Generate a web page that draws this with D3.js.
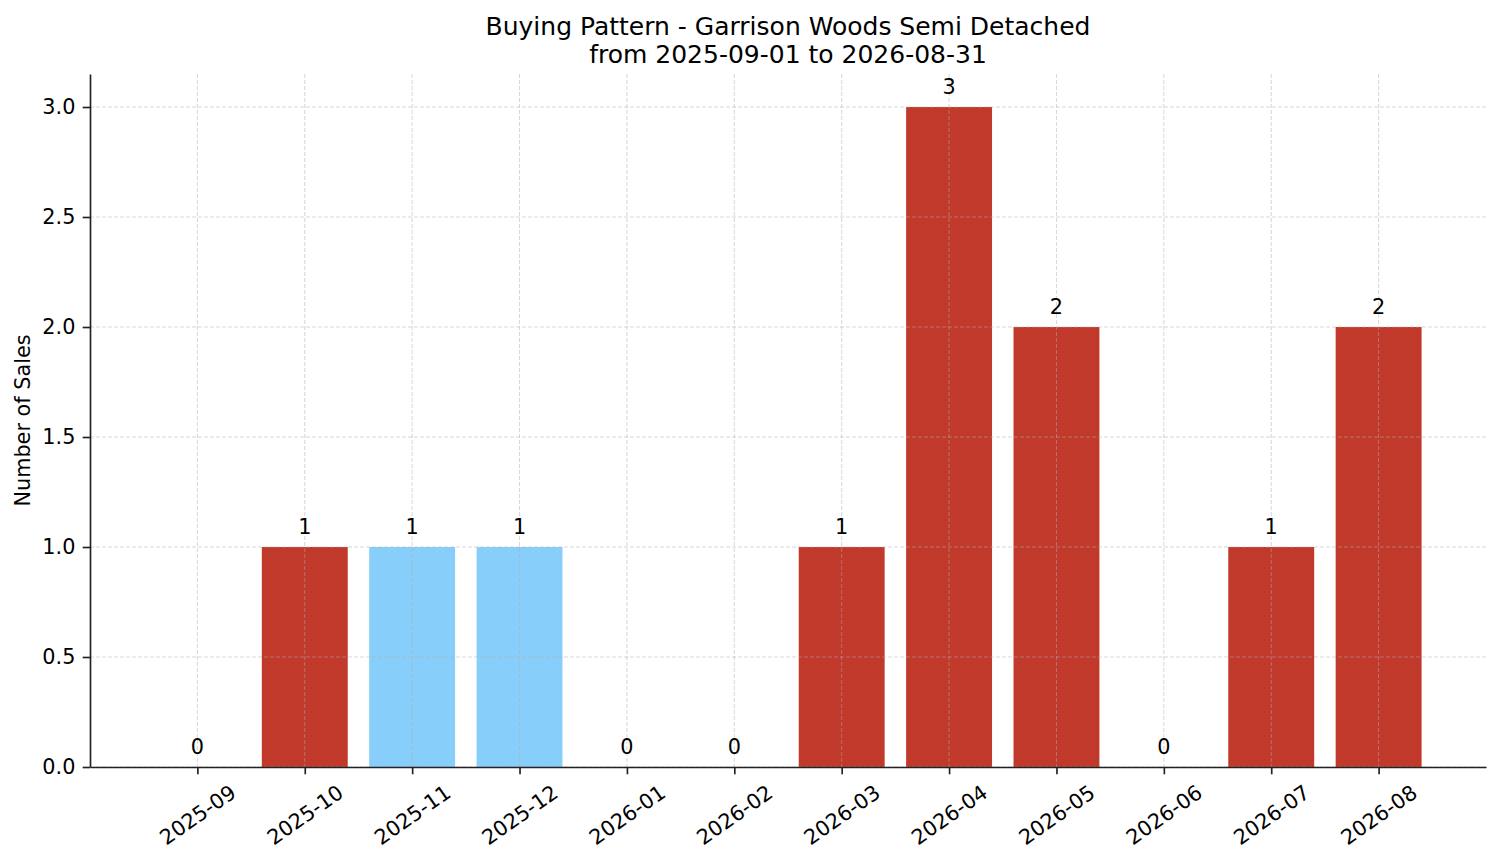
<!DOCTYPE html>
<html>
<head>
<meta charset="utf-8">
<script src="https://cdn.jsdelivr.net/npm/d3@7"></script>
<style>
  body { margin: 0; background: #fff; }
  text { font-family: "DejaVu Sans", sans-serif; fill: #000; }
</style>
</head>
<body>
<script>
var months = ["2025-09", "2025-10", "2025-11", "2025-12", "2026-01", "2026-02",
              "2026-03", "2026-04", "2026-05", "2026-06", "2026-07", "2026-08"];
var sales = [0, 1, 1, 1, 0, 0, 1, 3, 2, 0, 1, 2];
// highlighted months drawn in light blue
var highlight = ["2025-11", "2025-12"];
var yTicks = [0, 0.5, 1.0, 1.5, 2.0, 2.5, 3.0];
var titleLines = ["Buying Pattern - Garrison Woods Semi Detached", "from 2025-09-01 to 2026-08-31"];

var w = 1501, h = 863;
var margin = {top: 74, right: 15, bottom: 96, left: 90};
var width = w - margin.left - margin.right;
var height = h - margin.top - margin.bottom;

var svg = d3.select("body").append("svg")
  .attr("width", w)
  .attr("height", h);

var chart = svg.append("g")
  .attr("transform", "translate(" + margin.left + "," + margin.top + ")");

// matplotlib-like limits: categories at 0..11, xlim [-1, 12]
var x = d3.scaleLinear().domain([-1, months.length]).range([0, width]);
var y = d3.scaleLinear().domain([0, 3.15]).range([height, 0]);
var barW = x(0.8) - x(0);

var data = months.map((m, i) => ({key: m, value: sales[i], i: i}));

chart.selectAll(".bar")
  .data(data)
  .enter()
    .append("rect")
    .attr("x", d => x(d.i) - barW / 2)
    .attr("y", d => y(d.value))
    .attr("width", barW)
    .attr("height", d => y(0) - y(d.value))
    .attr("fill", d => highlight.indexOf(d.key) >= 0 ? "#87cefa" : "#c0392b");

// grid sits above the bars like matplotlib's default
var grid = chart.append("g")
  .attr("stroke", "#b0b0b0")
  .attr("stroke-opacity", 0.5)
  .attr("stroke-width", 1)
  .attr("stroke-dasharray", "4,2");

grid.selectAll(".hg")
  .data(yTicks)
  .enter()
    .append("line")
    .attr("x1", 0).attr("x2", width)
    .attr("y1", d => y(d)).attr("y2", d => y(d));

grid.selectAll(".vg")
  .data(data)
  .enter()
    .append("line")
    .attr("x1", d => x(d.i)).attr("x2", d => x(d.i))
    .attr("y1", 0).attr("y2", height);

// value labels
chart.selectAll(".bar-label")
  .data(data)
  .enter()
    .append("text")
    .attr("x", d => x(d.i))
    .attr("y", d => y(d.value) - 13.5)
    .attr("text-anchor", "middle")
    .style("font-size", "20.8px")
    .text(d => d.value);

// y axis
var yAxis = d3.axisLeft(y)
  .tickValues(yTicks)
  .tickFormat(d3.format(".1f"))
  .tickSizeInner(7.3)
  .tickSizeOuter(0)
  .tickPadding(7.3);

var yG = chart.append("g").call(yAxis);
yG.selectAll("text").style("font-size", "20.8px").attr("fill", "#000");

// x axis
var xAxis = d3.axisBottom(x)
  .tickValues(d3.range(months.length))
  .tickFormat(i => months[i])
  .tickSizeInner(7.3)
  .tickSizeOuter(0);

var xG = chart.append("g")
  .attr("transform", "translate(0," + height + ")")
  .call(xAxis);
xG.selectAll("text")
  .style("font-size", "20.8px")
  .attr("fill", "#000")
  .attr("y", 0)
  .attr("dy", null)
  .attr("dominant-baseline", "central")
  .attr("text-anchor", "middle")
  .attr("transform", "translate(0,48) rotate(-35)");

[yG, xG].forEach(g => {
  g.select(".domain").attr("stroke", "#222").attr("stroke-width", 1.67);
  g.selectAll(".tick line").attr("stroke", "#222").attr("stroke-width", 1.67);
});

// y label
svg.append("text")
  .attr("transform", "translate(30," + (margin.top + height / 2) + ") rotate(-90)")
  .attr("text-anchor", "middle")
  .style("font-size", "20.8px")
  .text("Number of Sales");

// title
svg.selectAll(".title")
  .data(titleLines)
  .enter()
    .append("text")
    .attr("x", margin.left + width / 2)
    .attr("y", (d, i) => 35 + i * 28)
    .attr("text-anchor", "middle")
    .style("font-size", "25px")
    .text(d => d);
</script>
</body>
</html>
